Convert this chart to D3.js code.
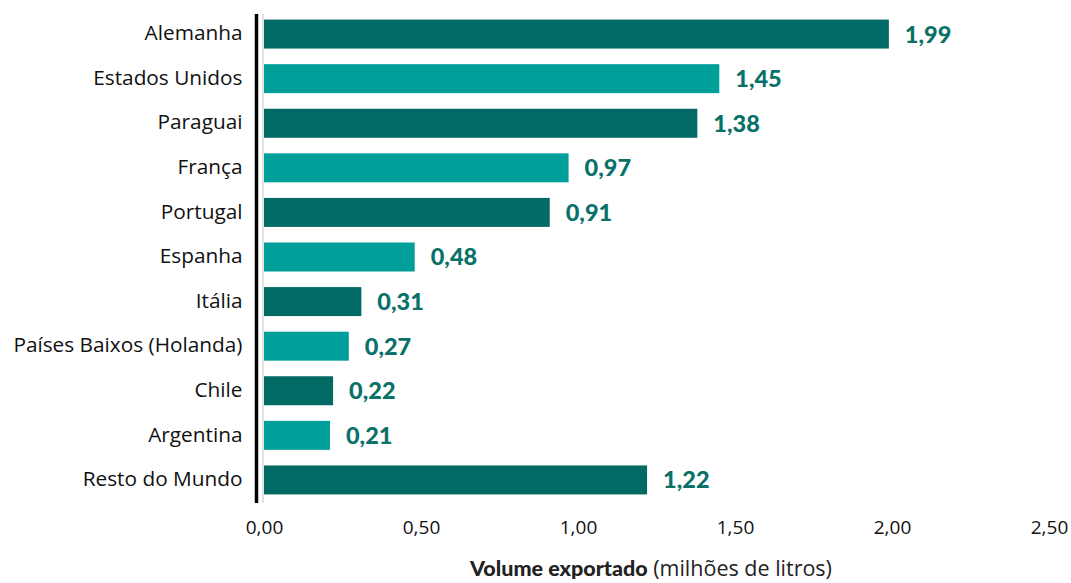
<!DOCTYPE html>
<html>
<head>
<meta charset="utf-8">
<script src="https://cdn.jsdelivr.net/npm/d3@7"></script>
<style>
  body { margin: 0; background: #fff; }
  svg { display: block; }
</style>
</head>
<body>
<div id="chart"></div>
<script>
// paises e volumes exportados (milhoes de litros)
var countries = ["Alemanha", "Estados Unidos", "Paraguai", "França", "Portugal", "Espanha",
    "Itália", "Países Baixos (Holanda)", "Chile", "Argentina", "Resto do Mundo"];
var volumes = [1.99, 1.45, 1.38, 0.97, 0.91, 0.48, 0.31, 0.27, 0.22, 0.21, 1.22];
var xTicks = [0, 0.5, 1, 1.5, 2, 2.5];

var width = 1071,
    height = 583;
var margin = { top: 12, right: 22, bottom: 82, left: 264 };

var darkColor = "#016a65",
    lightColor = "#009f99",
    valueColor = "#0a7169";

var fmt = d => d.toFixed(2).replace(".", ",");

var svg = d3.select("#chart")
    .append("svg")
    .attr("width", width)
    .attr("height", height);

var x = d3.scaleLinear()
    .domain([0, 2.5])
    .range([margin.left, margin.left + 2.5 * 314]);

var y = d3.scaleBand()
    .domain(countries)
    .range([margin.top, height - margin.bottom + 1])
    .paddingInner(0.35)
    .paddingOuter(0.17);

// light guide line right beside the axis
svg.append("line")
    .attr("x1", x(0) - 1).attr("x2", x(0) - 1)
    .attr("y1", 14).attr("y2", 503)
    .attr("stroke", "#d9d9d9")
    .attr("stroke-width", 1.5);

// bars
svg.selectAll("rect.bar")
    .data(countries)
    .enter()
    .append("rect")
    .attr("class", "bar")
    .attr("x", x(0))
    .attr("y", d => y(d))
    .attr("width", (d, i) => x(volumes[i]) - x(0))
    .attr("height", y.bandwidth())
    .attr("fill", (d, i) => i % 2 === 0 ? darkColor : lightColor);

// value labels
svg.selectAll("text.val")
    .data(countries)
    .enter()
    .append("text")
    .attr("class", "val")
    .attr("x", (d, i) => x(volumes[i]) + 16)
    .attr("y", d => y(d) + y.bandwidth() / 2)
    .attr("dy", "0.36em")
    .attr("fill", valueColor)
    .style("font-family", "Lato, sans-serif")
    .style("font-weight", "900")
    .style("font-size", "23.5px")
    .text((d, i) => fmt(volumes[i]));

// y axis (category labels + thick black line)
var yAxis = svg.append("g")
    .attr("transform", "translate(" + (x(0) - 7.5) + ",0)")
    .call(d3.axisLeft(y).tickSize(0).tickPadding(14));
yAxis.select(".domain").remove();
yAxis.selectAll("text")
    .attr("fill", "#111")
    .attr("dy", "0.3em")
    .style("font-family", "'Open Sans', sans-serif")
    .style("font-size", "20.8px");

svg.append("line")
    .attr("x1", x(0) - 7.5).attr("x2", x(0) - 7.5)
    .attr("y1", 14).attr("y2", 503)
    .attr("stroke", "#000")
    .attr("stroke-width", 3.5);

// x axis (labels only)
var xAxis = svg.append("g")
    .attr("transform", "translate(0,513)")
    .call(d3.axisBottom(x).tickValues(xTicks).tickFormat(fmt).tickSize(0).tickPadding(8));
xAxis.select(".domain").remove();
xAxis.selectAll("text")
    .attr("fill", "#111")
    .style("font-family", "'Open Sans', sans-serif")
    .style("font-size", "19px");

// axis title
var title = svg.append("text")
    .attr("x", 651)
    .attr("y", 576)
    .attr("text-anchor", "middle")
    .attr("fill", "#222")
    .style("font-family", "Lato, sans-serif")
    .style("font-size", "21.5px");
title.append("tspan").style("font-weight", "900").text("Volume exportado");
title.append("tspan").style("font-family", "'Open Sans', sans-serif").text(" (milhões de litros)");
</script>
</body>
</html>
